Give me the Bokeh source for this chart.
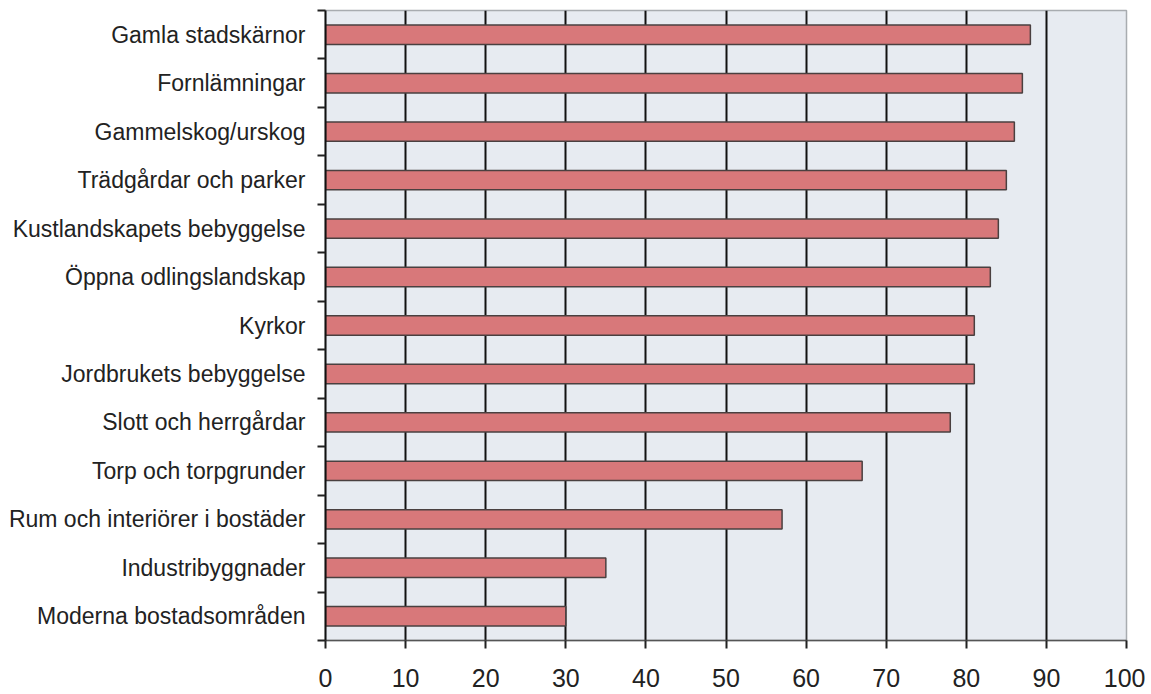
from bokeh.plotting import figure
from bokeh.models import Range1d, FixedTicker
from bokeh.embed import file_html
from bokeh.resources import INLINE

categories = [
    "Gamla stadskärnor",
    "Fornlämningar",
    "Gammelskog/urskog",
    "Trädgårdar och parker",
    "Kustlandskapets bebyggelse",
    "Öppna odlingslandskap",
    "Kyrkor",
    "Jordbrukets bebyggelse",
    "Slott och herrgårdar",
    "Torp och torpgrunder",
    "Rum och interiörer i bostäder",
    "Industribyggnader",
    "Moderna bostadsområden",
]
values = [88, 87, 86, 85, 84, 83, 81, 81, 78, 67, 57, 35, 30]
x_ticks = [0, 10, 20, 30, 40, 50, 60, 70, 80, 90, 100]

n = len(categories)
centers = [i + 0.5 for i in range(n)]
bounds = [float(i) for i in range(n + 1)]

p = figure(width=1145, height=694, output_backend="svg", toolbar_location=None,
           x_range=Range1d(0, 100), y_range=Range1d(n, 0),
           min_border_left=325, min_border_right=19, min_border_top=10, min_border_bottom=54)

p.background_fill_color = "#e7ebf1"
p.border_fill_color = "white"
p.outline_line_color = "#a8acb0"
p.outline_line_width = 1.5

p.hbar(y=centers, right=values, left=0, height=0.4,
       fill_color="#d8787a", line_color="#4a4040", line_width=1.5)

# grid
p.xgrid.ticker = FixedTicker(ticks=x_ticks[1:-1])
p.xgrid.grid_line_color = "#111111"
p.xgrid.grid_line_width = 2
p.xgrid.level = "underlay"
p.ygrid.grid_line_color = None

# x axis
p.xaxis.ticker = FixedTicker(ticks=x_ticks)
p.xaxis.major_tick_out = 8
p.xaxis.major_tick_in = 0
p.xaxis.major_tick_line_color = "#222222"
p.xaxis.major_tick_line_width = 2
p.xaxis.minor_tick_line_color = None
p.xaxis.axis_line_color = "#555555"
p.xaxis.axis_line_width = 1.5
p.xaxis.major_label_text_font = "Liberation Sans"
p.xaxis.major_label_text_font_size = "25px"
p.xaxis.major_label_text_color = "#222222"
p.xaxis.major_label_standoff = 20

# y axis
p.yaxis.ticker = FixedTicker(ticks=centers, minor_ticks=bounds)
p.yaxis.major_label_overrides = {c: lab for c, lab in zip(centers, categories)}
p.yaxis.major_tick_out = 0
p.yaxis.major_tick_in = 0
p.yaxis.minor_tick_out = 8
p.yaxis.minor_tick_in = 0
p.yaxis.minor_tick_line_color = "#222222"
p.yaxis.minor_tick_line_width = 2
p.yaxis.axis_line_color = "#111111"
p.yaxis.axis_line_width = 2
p.yaxis.major_label_text_font = "Liberation Sans"
p.yaxis.major_label_text_font_size = "23px"
p.yaxis.major_label_text_color = "#222222"
p.yaxis.major_label_standoff = 12

open("out.html", "w").write(file_html(p, INLINE))
